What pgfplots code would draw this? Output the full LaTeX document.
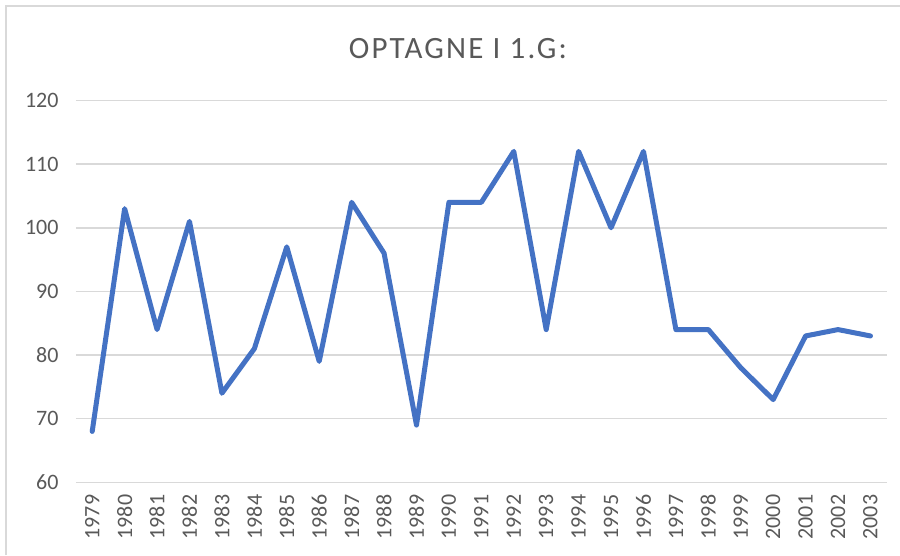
\documentclass[border=0pt]{standalone}
\usepackage{pgfplots}
\pgfplotsset{compat=1.18}
\usepackage{fontspec}
\setmainfont{Carlito}
\newfontfamily\titlefont[LetterSpace=7]{Carlito}
\definecolor{linecol}{HTML}{4472C4}
\definecolor{gridcol}{HTML}{D9D9D9}
\definecolor{textcol}{HTML}{595959}
\begin{document}
\begin{tikzpicture}[x=1pt,y=1pt]
\useasboundingbox (0,0) rectangle (900,555);
\fill[white] (0,0) rectangle (900,555);
\draw[gridcol, line width=2pt] (6,0) -- (6,549) -- (900,549);
\node[text=textcol, font=\titlefont\fontsize{31}{36}\selectfont] at (458,506) {OPTAGNE I 1.G:};
\begin{axis}[at={(76pt,72.7pt)}, anchor=south west, scale only axis,
  width=810.7pt, height=381.8pt,
  xmin=1978.5, xmax=2003.5, ymin=60, ymax=120,
  ytick={60,70,...,120}, xtick={1979,...,2003},
  axis line style={draw=none}, ymajorgrids,
  grid style={gridcol, line width=1.5pt},
  major tick length=0pt,
  tick label style={text=textcol, font=\fontsize{22}{26}\selectfont},
  x tick label style={rotate=90, anchor=east},
  yticklabel shift=14pt, xticklabel shift=9pt,
  /pgf/number format/assume math mode=true,
  /pgf/number format/1000 sep={},
  clip=false]
\addplot[linecol, line width=5pt, line join=round, line cap=round] table {
x y
1979 68
1980 103
1981 84
1982 101
1983 74
1984 81
1985 97
1986 79
1987 104
1988 96
1989 69
1990 104
1991 104
1992 112
1993 84
1994 112
1995 100
1996 112
1997 84
1998 84
1999 78
2000 73
2001 83
2002 84
2003 83
};
\end{axis}
\end{tikzpicture}
\end{document}
